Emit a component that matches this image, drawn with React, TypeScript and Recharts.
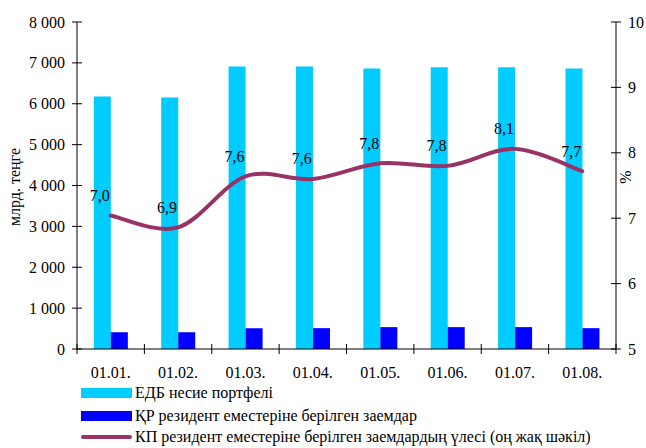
import React from 'react';
import { ComposedChart, Bar, Line, XAxis, YAxis, Legend, LabelList, Label } from 'recharts';

const categories = ['01.01.', '01.02.', '01.03.', '01.04.', '01.05.', '01.06.', '01.07.', '01.08.'];
const portfolio = [6180, 6150, 6910, 6910, 6860, 6890, 6890, 6860];
const nonResidentLoans = [410, 410, 510, 510, 535, 535, 535, 510];
const sharePct = [7.04, 6.86, 7.64, 7.6, 7.84, 7.8, 8.06, 7.72];
const leftTicks = [0, 1000, 2000, 3000, 4000, 5000, 6000, 7000, 8000];
const rightTicks = [5, 6, 7, 8, 9, 10];
const seriesNames = [
  'ЕДБ несие портфелі',
  'ҚР резидент еместеріне берілген заемдар',
  'КП резидент еместеріне берілген заемдардың үлесі (оң жақ шәкіл)',
];
const yLeftTitle = 'млрд. теңге';
const yRightTitle = '%';

const data = categories.map((c, i) => ({
  name: c,
  portfolio: portfolio[i],
  loans: nonResidentLoans[i],
  share: sharePct[i],
}));

const W = 646;
const H = 448;
const LEFT_W = 77;
const RIGHT_W = 30;
const TOP = 22;
const XAXIS_H = 99;
const PLOT_W = W - LEFT_W - RIGHT_W;
const BAND = PLOT_W / categories.length;
const FONT = "'Liberation Serif', 'Times New Roman', 'DejaVu Serif', serif";
const TXT: React.CSSProperties = { fontFamily: FONT, fontSize: 16 };
const CYAN = '#00CCFF';
const BLUE = '#0000FF';
const PLUM = '#993366';

const fmtThousands = (v: number) => String(v).replace(/\B(?=(\d{3})+(?!\d))/g, ' ');

const LeftTick = (props: any) => {
  const { x, y, payload } = props;
  return (
    <g>
      <line x1={x - 5} x2={x + 5} y1={y} y2={y} stroke="#000" strokeWidth={1} />
      <text x={x - 12} y={y + 5.5} textAnchor="end" style={TXT} fill="#000">
        {fmtThousands(payload.value)}
      </text>
    </g>
  );
};

const RightTick = (props: any) => {
  const { x, y, payload } = props;
  return (
    <g>
      <line x1={x - 5} x2={x + 5} y1={y} y2={y} stroke="#000" strokeWidth={1} />
      <text x={x + 12} y={y + 5.5} textAnchor="start" style={TXT} fill="#000">
        {payload.value}
      </text>
    </g>
  );
};

const BottomTick = (props: any) => {
  const { x, y, payload, index } = props;
  return (
    <g>
      <line x1={x - BAND / 2} x2={x - BAND / 2} y1={y - 5} y2={y + 5} stroke="#000" strokeWidth={1} />
      {index === categories.length - 1 ? (
        <line x1={x + BAND / 2} x2={x + BAND / 2} y1={y - 5} y2={y + 5} stroke="#000" strokeWidth={1} />
      ) : null}
      <text x={x} y={y + 29} textAnchor="middle" style={TXT} fill="#000">
        {payload.value}
      </text>
    </g>
  );
};

// Excel-like smoothed line (Catmull-Rom style bezier)
const excelCurve: any = (context: any) => {
  let pts: number[][] = [];
  return {
    areaStart() {},
    areaEnd() {},
    lineStart() {
      pts = [];
    },
    point(x: number, y: number) {
      pts.push([+x, +y]);
    },
    lineEnd() {
      if (!pts.length) return;
      context.moveTo(pts[0][0], pts[0][1]);
      for (let i = 0; i < pts.length - 1; i++) {
        const p0 = pts[i - 1] || pts[i];
        const p1 = pts[i];
        const p2 = pts[i + 1];
        const p3 = pts[i + 2] || p2;
        const c1x = p1[0] + (p2[0] - p0[0]) / 6;
        const c1y = p1[1] + (p2[1] - p0[1]) / 6;
        const c2x = p2[0] - (p3[0] - p1[0]) / 6;
        const c2y = p2[1] - (p3[1] - p1[1]) / 6;
        context.bezierCurveTo(c1x, c1y, c2x, c2y, p2[0], p2[1]);
      }
    },
  };
};

const ShareLabel = (props: any) => {
  const { x, y, value } = props;
  return (
    <text x={x - 11} y={y - 14.5} textAnchor="middle" style={TXT} fill="#000">
      {Number(value).toFixed(1).replace('.', ',')}
    </text>
  );
};

const renderLegend = () => (
  <svg width={W} height={H} style={{ position: 'absolute', left: 0, top: 0 }}>
    <rect x={81} y={388} width={51} height={10} fill={CYAN} />
    <text x={135} y={398} style={TXT} fill="#000">
      {seriesNames[0]}
    </text>
    <rect x={81} y={411} width={51} height={10} fill={BLUE} />
    <text x={135} y={421} style={TXT} fill="#000">
      {seriesNames[1]}
    </text>
    <line x1={83} x2={130} y1={437} y2={437} stroke={PLUM} strokeWidth={4} strokeLinecap="round" />
    <text x={135} y={442} style={TXT} fill="#000">
      {seriesNames[2]}
    </text>
  </svg>
);

export default function App() {
  return (
    <div style={{ position: 'absolute', left: 0, top: 0, width: W, height: H, background: '#fff', fontFamily: FONT }}>
      <ComposedChart
        width={W}
        height={H}
        data={data}
        margin={{ top: TOP, right: 0, bottom: 0, left: 0 }}
        barCategoryGap="25%"
        barGap={0}
      >
        <XAxis
          dataKey="name"
          height={XAXIS_H}
          tickSize={0}
          tickMargin={0}
          tick={<BottomTick />}
          axisLine={{ stroke: '#000', strokeWidth: 1 }}
          tickLine={false}
          interval={0}
        />
        <YAxis
          yAxisId="left"
          width={LEFT_W}
          domain={[0, 8000]}
          ticks={leftTicks}
          tickSize={0}
          tickMargin={0}
          tick={<LeftTick />}
          tickLine={false}
          axisLine={{ stroke: '#000', strokeWidth: 1 }}
          interval={0}
        >
          <Label
            content={() => (
              <text
                x={20}
                y={187}
                transform="rotate(-90, 20, 187)"
                textAnchor="middle"
                style={TXT}
                fill="#000"
              >
                {yLeftTitle}
              </text>
            )}
          />
        </YAxis>
        <YAxis
          yAxisId="right"
          orientation="right"
          width={RIGHT_W}
          domain={[5, 10]}
          ticks={rightTicks}
          tickSize={0}
          tickMargin={0}
          tick={<RightTick />}
          tickLine={false}
          axisLine={{ stroke: '#000', strokeWidth: 1 }}
          interval={0}
        >
          <Label
            content={() => (
              <text
                x={631}
                y={177}
                transform="rotate(-90, 631, 177)"
                textAnchor="middle"
                style={TXT}
                fill="#000"
              >
                {yRightTitle}
              </text>
            )}
          />
        </YAxis>
        <Bar yAxisId="left" dataKey="portfolio" fill={CYAN} isAnimationActive={false} />
        <Bar yAxisId="left" dataKey="loans" fill={BLUE} isAnimationActive={false} />
        <Line
          yAxisId="right"
          dataKey="share"
          type={excelCurve}
          stroke={PLUM}
          strokeWidth={4}
          strokeLinecap="round"
          dot={false}
          activeDot={false}
          isAnimationActive={false}
        >
          <LabelList dataKey="share" content={<ShareLabel />} />
        </Line>
        <Legend
          layout="vertical"
          align="center"
          verticalAlign="middle"
          wrapperStyle={{ left: 0, top: 0, width: W, height: H, pointerEvents: 'none' }}
          content={renderLegend}
        />
      </ComposedChart>
    </div>
  );
}
